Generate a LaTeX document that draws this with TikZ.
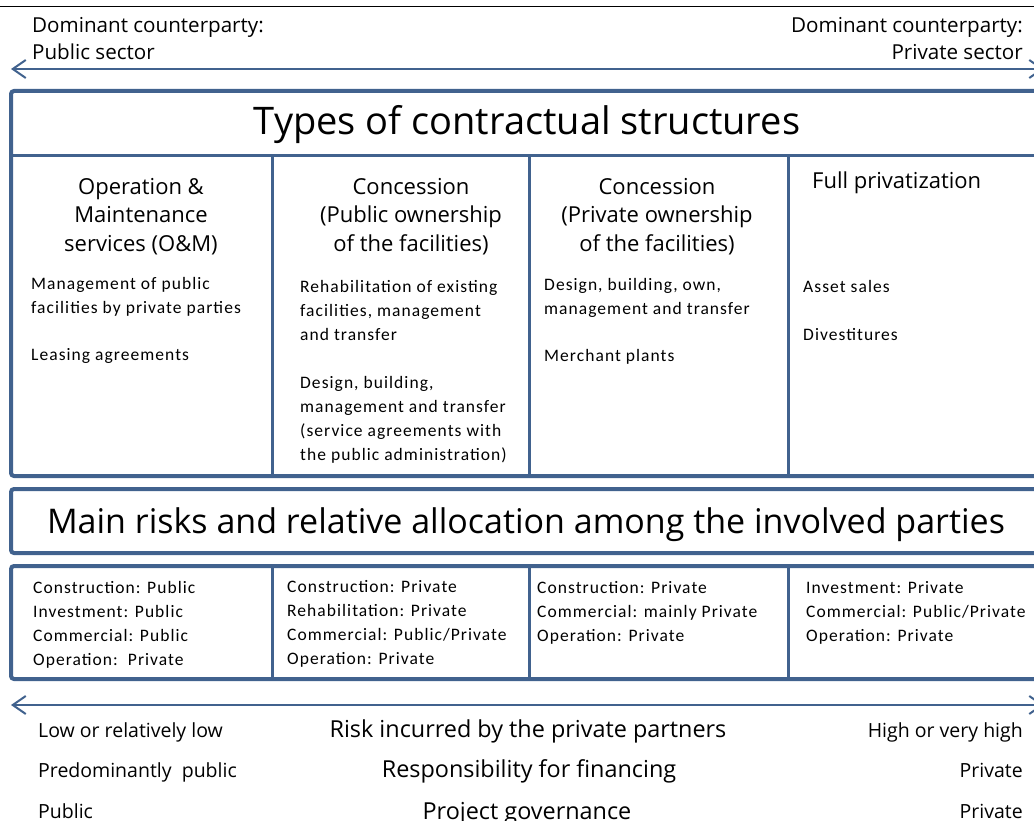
\documentclass[tikz,border=0pt]{standalone}
\usepackage{fontspec}
\setmainfont[LetterSpace=6]{Carlito}
\newfontfamily\headfont{Open Sans}
\usetikzlibrary{arrows.meta}
\definecolor{frameblue}{RGB}{65,98,142}
\tikzset{>=latex}

\begin{document}
\begin{tikzpicture}[x=1pt, y=-1pt,
    frame/.style={draw=frameblue, line width=4pt, rounded corners=3pt},
    split/.style={draw=frameblue, line width=3pt},
    scalearrow/.style={draw=frameblue, line width=2pt,
      {Straight Barb[length=13pt, width=18pt]}-{Straight Barb[length=13pt, width=18pt]}},
    title/.style={font=\headfont\fontsize{38}{44}\selectfont, inner sep=0pt, anchor=base},
    colhead/.style={font=\headfont\fontsize{22}{28.5}\selectfont, align=center, inner sep=0pt,
      anchor=north, execute at begin node=\strut},
    body/.style={font=\fontsize{17.5}{24}\selectfont, align=left, inner sep=0pt,
      anchor=north west, execute at begin node=\strut},
    side/.style={font=\headfont\fontsize{20.6}{27}\selectfont, inner sep=0pt,
      execute at begin node=\strut},
    lowrow/.style={font=\headfont\fontsize{19.5}{24}\selectfont, inner sep=0pt},
    midrow/.style={font=\headfont\fontsize{23.4}{28}\selectfont, inner sep=0pt, anchor=base},
  ]
  \useasboundingbox (0,0) rectangle (1034,821);
  \clip (0,0) rectangle (1034,821);
  \draw[line width=1pt] (0,7) -- (1034,7);

  % who dominates
  \node[side, anchor=north west, align=left] (pubside) at (32,17) {Dominant counterparty:\\Public sector};
  \node[side, anchor=north east, align=right] (privside) at (1023,17) {Dominant counterparty:\\Private sector};
  \coordinate (topleft) at (11,69);
  \coordinate (topright) at (1044,69);
  \draw[scalearrow] (topleft) -- (topright);

  % contractual structures
  \draw[frame] (11,91) rectangle (1052,476);
  \draw[split] (11,156) -- (1052,156);
  \foreach \x in {272,529,788}
    \draw[split] (\x,156) -- (\x,476);
  \node[title] (types) at (527,135) {Types of contractual structures};

  \node[colhead] (omhead) at (141,178) {Operation \&\\Maintenance\\services (O\&M)};
  \node[colhead] (pubhead) at (411,178) {Concession\\(Public ownership\\of the facilities)};
  \node[colhead] (privhead) at (657,178) {Concession\\(Private ownership\\of the facilities)};
  \node[colhead, anchor=north west] (fullhead) at (812,168) {Full privatization};

  \node[body] (omtext) at (31,277) {Management of public\\facilities by private parties\\[23pt]Leasing agreements};
  \node[body] (pubtext) at (300,280) {Rehabilitation of existing\\facilities, management\\and transfer\\[24pt]Design, building,\\management and transfer\\(service agreements with\\the public administration)};
  \node[body] (privtext) at (544,278) {Design, building, own,\\management and transfer\\[23pt]Merchant plants};
  \node[body] (fulltext) at (803,280) {Asset sales\\[24pt]Divestitures};

  % risks
  \draw[frame] (11,489) rectangle (1052,553);
  \node[title, font=\headfont\fontsize{34}{40}\selectfont] (risks) at (526,533) {Main risks and relative allocation among the involved parties};

  \draw[frame] (11,566) rectangle (1052,679);
  \foreach \x in {272,529,788}
    \draw[split] (\x,566) -- (\x,679);
  \node[body] (omrisk) at (33,581) {Construction: Public\\Investment: Public\\Commercial: Public\\Operation:\ \ Private};
  \node[body] (pubrisk) at (287,580) {Construction: Private\\Rehabilitation: Private\\Commercial: Public/Private\\Operation: Private};
  \node[body] (privrisk) at (537,581) {Construction: Private\\Commercial: mainly Private\\Operation: Private};
  \node[body] (fullrisk) at (806,581) {Investment: Private\\Commercial: Public/Private\\Operation: Private};

  % scale of risk
  \coordinate (botleft) at (11,705);
  \coordinate (botright) at (1044,705);
  \draw[scalearrow] (botleft) -- (botright);

  \node[lowrow, anchor=base west] (lowrisk) at (38,737) {Low or relatively low};
  \node[lowrow, anchor=base west] (lowfin) at (38,777) {Predominantly\ \ public};
  \node[lowrow, anchor=base west] (lowgov) at (38,818) {Public};
  \node[midrow] (riskrow) at (528,737) {Risk incurred by the private partners};
  \node[midrow] (finrow) at (529,777) {Responsibility for financing};
  \node[midrow] (govrow) at (527,819) {Project governance};
  \node[lowrow, anchor=base east] (highrisk) at (1023,737) {High or very high};
  \node[lowrow, anchor=base east] (highfin) at (1023,777) {Private};
  \node[lowrow, anchor=base east] (highgov) at (1023,818) {Private};
\end{tikzpicture}
\end{document}
